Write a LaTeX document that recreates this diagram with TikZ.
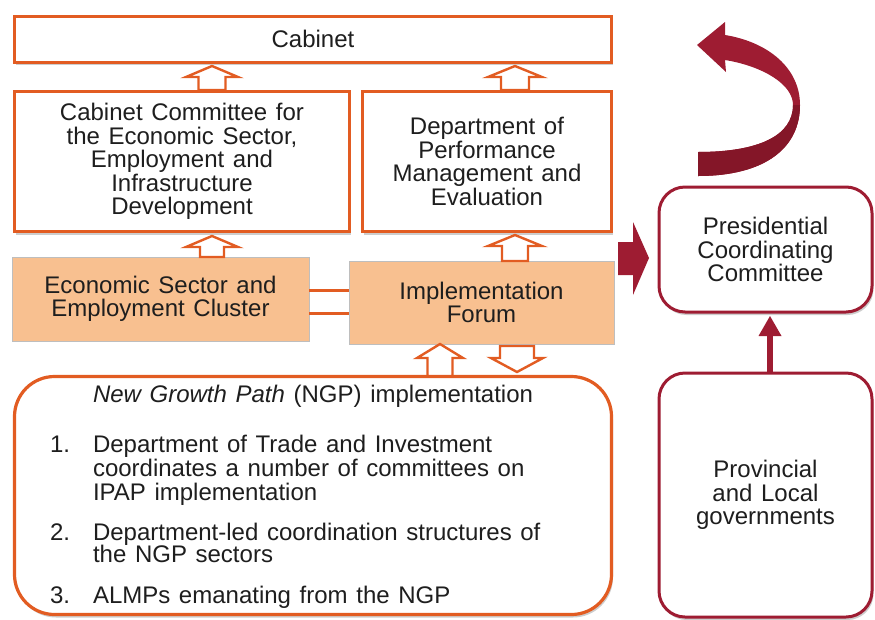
\documentclass[tikz,border=0pt]{standalone}
\usepackage{fontspec}
\setmainfont{Liberation Sans}
\usetikzlibrary{shadows,calc}

\definecolor{orng}{RGB}{226,92,34}
\definecolor{peach}{RGB}{248,192,144}
\definecolor{wine}{RGB}{158,28,50}
\definecolor{winedark}{RGB}{132,22,40}
\definecolor{ink}{RGB}{30,30,30}
\definecolor{edge}{RGB}{190,190,190}

% hollow block arrow: centre x, tip y, head base y, shaft end y, head half width, shaft half width
\newcommand{\hollowarrow}[6]{%
  \draw[orng, line width=2.4pt, fill=white, line join=miter]
    (#1-#6,#4) -- (#1-#6,#3) -- (#1-#5,#3) -- (#1,#2) -- (#1+#5,#3)
    -- (#1+#6,#3) -- (#1+#6,#4) -- cycle;}

% body text: Arial-like face, slightly open word spacing, tight leading
\newcommand{\bodyfont}[1]{\fontsize{24}{#1}\selectfont\spaceskip=0.36em plus 0.1em\relax\lineskiplimit=-8pt\relax}

\begin{document}
\begin{tikzpicture}[x=1pt,y=-1pt,
  every node/.style={text=ink, inner sep=0pt, outer sep=0pt,
    font=\bodyfont{23.5}},
  softshadow/.style={drop shadow={shadow xshift=1.5pt, shadow yshift=-3pt,
    opacity=0.28, fill=black!70}},
  orangebox/.style={draw=orng, line width=3pt, fill=white, softshadow,
    align=center},
  clusterbox/.style={draw=edge, line width=0.8pt, fill=peach, align=center},
  roundbox/.style={draw=orng, line width=3.2pt, fill=white, rounded corners=40pt,
    softshadow},
  winebox/.style={draw=wine, line width=3pt, fill=white, rounded corners=26pt,
    softshadow, align=center},
  listtext/.style={anchor=base west, align=left}
]
\useasboundingbox (0,0) rectangle (875,619);

% upper hierarchy
\node[orangebox, minimum width=597pt, minimum height=46pt] (cabinet) at (313,39) {Cabinet};
\node[orangebox, minimum width=335pt, minimum height=140pt] (ccomm) at (182,161.5)
  {Cabinet Committee for\\the Economic Sector,\\Employment and\\Infrastructure\\Development};
\node[orangebox, minimum width=249pt, minimum height=140pt] (dpme) at (487,161.5)
  {Department of\\Performance\\Management and\\Evaluation};

% clusters
\node[clusterbox, minimum width=297pt, minimum height=84pt] (cluster) at (160.5,299)
  {Economic Sector and\\Employment Cluster};
\node[clusterbox, minimum width=265pt, minimum height=83pt] (forum) at (481.5,302.5)
  {Implementation\\Forum};
\draw[orng, line width=3pt] (cluster.east |- 0,290) -- (forum.west |- 0,290);
\draw[orng, line width=3pt] (cluster.east |- 0,313) -- (forum.west |- 0,313);

% NGP implementation panel
\node[roundbox, minimum width=597pt, minimum height=238pt] (ngp) at (313,495.5) {};
\node[anchor=base west] (ngptitle) at (93,402) {\textit{New Growth Path} (NGP) implementation};
\node[anchor=base west] (n1) at (50,452) {1.};
\node[listtext, font=\bodyfont{24}] (i1) at (93,500)
  {Department of Trade and Investment\\coordinates a number of committees on\\IPAP implementation};
\node[anchor=base west] (n2) at (50,540) {2.};
\node[listtext, font=\bodyfont{22}] (i2) at (93,562)
  {Department-led coordination structures of\\the NGP sectors};
\node[anchor=base west] (n3) at (50,603) {3.};
\node[listtext] (i3) at (93,603) {ALMPs emanating from the NGP};

% hollow arrows
\hollowarrow{212}{66}{77}{90}{26}{13.5}
\hollowarrow{515}{66}{77}{90}{27}{14}
\hollowarrow{212}{236}{247}{257}{26}{12}
\hollowarrow{515}{235}{246}{261}{27}{13}
\hollowarrow{440}{344}{358}{376}{23}{12.5}
% downward arrow from the forum
\draw[orng, line width=2.4pt, fill=white, line join=miter]
  (500,346) -- (500,358) -- (491,358) -- (517,372) -- (543,358) -- (534,358) -- (534,346) -- cycle;

% right-hand column
\node[winebox, minimum width=213pt, minimum height=125pt] (pcc) at (765.5,249.5)
  {Presidential\\Coordinating\\Committee};
\node[winebox, minimum width=213pt, minimum height=244pt] (prov) at (765.5,495)
  {Provincial\\and Local\\governments};
\draw[wine, line width=5.5pt] (prov.north -| 770,0) -- (770,333);
\fill[wine] (758.5,336) -- (770,316) -- (781.5,336) -- cycle;

% block arrow into the committee
\fill[wine] (618,242) -- (633,242) -- (633,222) -- (649,258) -- (633,295)
  -- (633,275) -- (618,275) -- cycle;

% curved feedback arrow
\path[fill=wine] (698,176) .. controls (765,176) and (800,148) .. (800,105)
  .. controls (800,68) and (768,42) .. (725,35) -- (725,22) -- (697,45) -- (726,72)
  -- (725,60) .. controls (762,66) and (793,84) .. (793,105)
  .. controls (793,136) and (758,152) .. (698,152) -- cycle;
\begin{scope}
  \clip (690,105) rectangle (810,180);
  \path[fill=winedark] (698,176) .. controls (765,176) and (800,148) .. (800,105)
    -- (793,105) .. controls (793,136) and (758,152) .. (698,152) -- cycle;
\end{scope}
\end{tikzpicture}
\end{document}
